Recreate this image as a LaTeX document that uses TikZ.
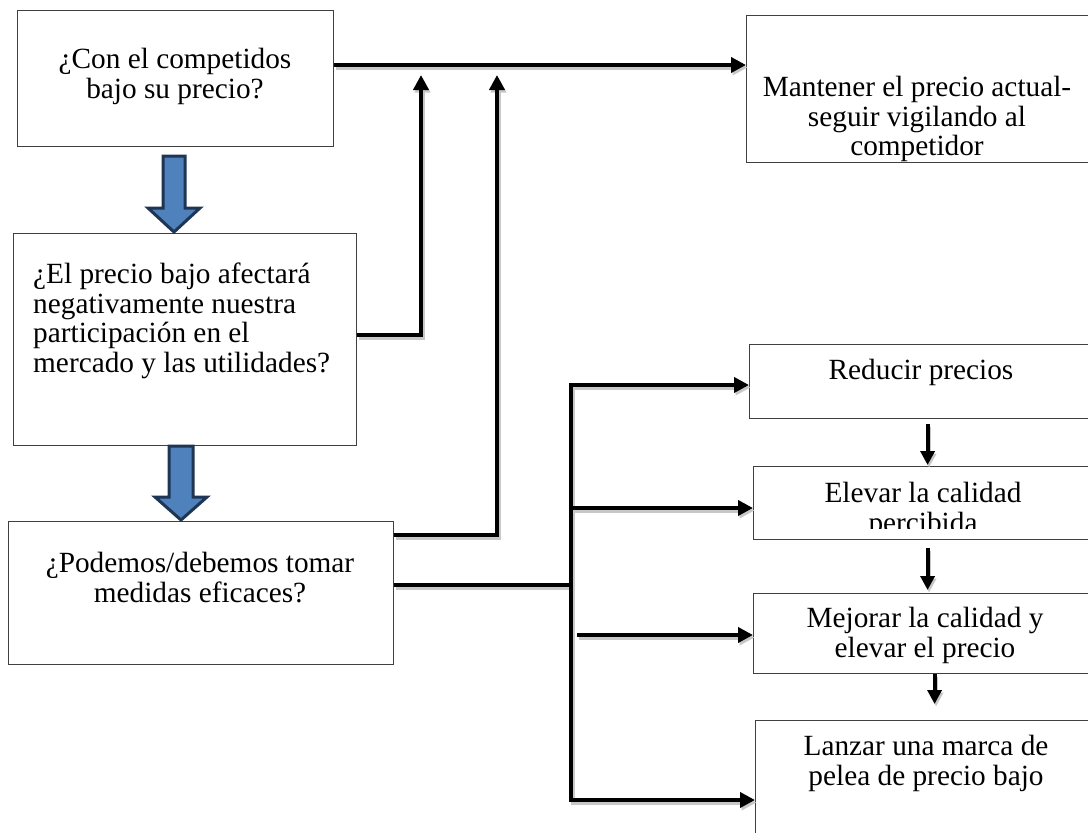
\documentclass[tikz,border=0pt]{standalone}
\usepackage{fontspec}
\setmainfont{Liberation Serif}
\usetikzlibrary{arrows.meta,calc}
\definecolor{fillblue}{HTML}{4F81BD}
\definecolor{navyline}{HTML}{1F3554}
\begin{document}
\begin{tikzpicture}[x=1pt,y=-1pt,
  box/.style={draw=black!75, line width=1.2pt, fill=white, inner sep=0pt, anchor=north west},
  txt/.style={inner sep=0pt, font=\fontsize{29.3}{29.5}\selectfont, align=center, anchor=north},
  shadowed/.style={preaction={draw=black!22, line width=4pt, transform canvas={shift={(1.5pt,-2.5pt)}}}},
  plain/.style={line width=4pt, line join=miter, shadowed},
  conn/.style={plain, -{Triangle[length=15pt,width=15pt]}},
  conns/.style={line width=4pt, -{Triangle[length=14pt,width=14pt]}},
  fat/.style={draw=navyline, fill=fillblue, line width=3pt, line join=miter}
]
\useasboundingbox (0,0) rectangle (1088,833);
\clip (0,0) rectangle (1088,833);

% boxes
\node[box, minimum width=316pt, minimum height=136pt] (b1) at (17,10) {};
\node[box, minimum width=343pt, minimum height=212pt] (b2) at (13,233) {};
\node[box, minimum width=385pt, minimum height=143pt] (b3) at (8,521) {};
\node[box, minimum width=346pt, minimum height=147pt] (b4) at (746,15) {};
\node[box, minimum width=343pt, minimum height=74pt] (b5) at (749,344) {};
\node[box, minimum width=339pt, minimum height=73pt] (b6) at (753,466) {};
\node[box, minimum width=339pt, minimum height=80pt] (b7) at (753,593) {};
\node[box, minimum width=337pt, minimum height=130pt] (b8) at (755,720) {};

% texts
\node[txt] (t1) at (175,48) {¿Con el competidos\\bajo su precio?};
\node[txt, anchor=north west, align=left] (t2) at (33,263) {¿El precio bajo afectará\\negativamente nuestra\\participación en el\\mercado y las utilidades?};
\node[txt] (t3) at (200,552) {¿Podemos/debemos tomar\\medidas eficaces?};
\node[txt] (t4) at (917,76) {Mantener el precio actual-\\seguir vigilando al\\competidor};
\node[txt] (t5) at (921,359) {Reducir precios};
\begin{scope}
  \clip (753,466) rectangle (1088,528);
  \node[txt] (t6) at (923,482) {Elevar la calidad\\percibida};
\end{scope}
\node[txt] (t7) at (925,607) {Mejorar la calidad y\\elevar el precio};
\node[txt] (t8) at (926,735) {Lanzar una marca de\\pelea de precio bajo};

% fat blue arrows
\draw[fat] (163,156) -- (185,156) -- (185,208) -- (200,208) -- (174,232) -- (148,208) -- (163,208) -- cycle;
\draw[fat] (169,446) -- (193,446) -- (193,497) -- (207,497) -- (181,520) -- (155,497) -- (169,497) -- cycle;

% named junction points
\coordinate (m1) at (421,75);
\coordinate (m2) at (497,75);
\coordinate (bt) at (571,385);
\coordinate (bb) at (571,800);
\coordinate (bj) at (571,585);

% connectors
\draw[conn] (b1.east |- 0,65) -- (b4.west |- 0,65);
\draw[conn] (b2.east |- 0,335) -| (m1);
\draw[conn] (b3.east |- 0,535) -| (m2);
\draw[plain] (b3.east |- 0,585) -- (bj);
\draw[plain, {Triangle[length=15pt,width=15pt]}-{Triangle[length=15pt,width=15pt]}] (b5.west |- bt) -- (bt) -- (bb) -- (b8.west |- bb);
\draw[conn] (573,508) -- (b6.west |- 0,508);
\draw[conn] (577,635) -- (b7.west |- 0,635);

\draw[conns, shadowed] ($(b5.south)+(6.5,5)$) -- ($(b6.north)+(4.5,-1)$);
\draw[conns, shadowed] ($(b6.south)+(4.5,8)$) -- ($(b7.north)+(4.5,-3)$);
\draw[conns, shadowed] ($(b7.south)+(11.5,0)$) -- ($(b8.north)+(10.5,-16)$);
\end{tikzpicture}
\end{document}
